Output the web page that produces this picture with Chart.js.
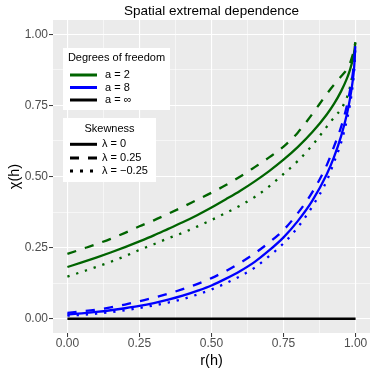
<!DOCTYPE html>
<html>
<head>
<meta charset="utf-8">
<script src="https://cdn.jsdelivr.net/npm/chart.js@4"></script>
<style>
  body { margin: 0; background: #fff; }
  #wrap { width: 374px; height: 374px; }
</style>
</head>
<body>
<div id="wrap"><canvas id="chi" width="374" height="374"></canvas></div>
<script>
// ===== DATA =====
const rVals = [0, 0.05, 0.1, 0.15, 0.2, 0.25, 0.3, 0.35, 0.4, 0.45, 0.5, 0.55, 0.6,
  0.65, 0.7, 0.75, 0.8, 0.85, 0.9, 0.925, 0.95, 0.97, 0.98, 0.99, 0.995, 0.999];

// a = 2
const chiA2Lam0   = [0.182, 0.198, 0.215, 0.233, 0.252, 0.272, 0.293, 0.316, 0.339, 0.364, 0.391, 0.420, 0.450,
  0.483, 0.519, 0.559, 0.604, 0.656, 0.718, 0.755, 0.800, 0.845, 0.873, 0.910, 0.936, 0.970];
const chiA2LamPos = [0.228, 0.245, 0.262, 0.281, 0.302, 0.325, 0.346, 0.369, 0.393, 0.418, 0.443, 0.470, 0.500,
  0.533, 0.567, 0.605, 0.655, 0.720, 0.790, 0.822, 0.852, 0.877, 0.897, 0.928, 0.946, 0.972];
const chiA2LamNeg = [0.148, 0.165, 0.182, 0.200, 0.220, 0.242, 0.262, 0.283, 0.302, 0.324, 0.347, 0.372, 0.398,
  0.428, 0.465, 0.509, 0.555, 0.610, 0.675, 0.707, 0.738, 0.778, 0.812, 0.865, 0.905, 0.960];

// a = 8
const chiA8Lam0   = [0.015, 0.019, 0.024, 0.030, 0.037, 0.045, 0.055, 0.067, 0.081, 0.098, 0.117, 0.141, 0.168,
  0.200, 0.240, 0.286, 0.344, 0.415, 0.508, 0.568, 0.643, 0.720, 0.770, 0.836, 0.884, 0.958];
const chiA8LamPos = [0.021, 0.026, 0.032, 0.040, 0.050, 0.062, 0.074, 0.088, 0.104, 0.122, 0.143, 0.168, 0.197,
  0.230, 0.268, 0.312, 0.372, 0.445, 0.540, 0.605, 0.675, 0.750, 0.800, 0.860, 0.902, 0.962];
const chiA8LamNeg = [0.011, 0.014, 0.018, 0.023, 0.030, 0.038, 0.047, 0.057, 0.069, 0.085, 0.103, 0.125, 0.150,
  0.180, 0.220, 0.265, 0.322, 0.395, 0.485, 0.550, 0.620, 0.700, 0.750, 0.820, 0.870, 0.952];

// a = infinity
const rInf = [0, 1];
const chiInf = [0, 0];

const majorTicks = [0, 0.25, 0.5, 0.75, 1];
const xTickLabels = ["0.00", "0.25", "0.50", "0.75", "1.00"];
const yTickLabels = ["0.00", "0.25", "0.50", "0.75", "1.00"];
const minorTicks = [0.125, 0.375, 0.625, 0.875];

const dofTitle = "Degrees of freedom";
const dofLabels = ["a = 2", "a = 8", "a = \u221E"];
const skewTitle = "Skewness";
const skewLabels = ["\u03BB = 0", "\u03BB = 0.25", "\u03BB = \u22120.25"];

// ===== STYLE =====
const FONT = "'Liberation Sans', Arial, Helvetica, sans-serif";
const GREEN = "#006400";
const BLUE = "#0000FF";
const BLACK = "#000000";
const LW = 2.3;
const DASHED = [9.2, 9.2];
const DOTTED = [2.3, 6.9];

function pts(xs, ys) {
  return xs.map((x, i) => ({ x: x, y: ys[i] }));
}

function series(label, xs, ys, color, dash) {
  return {
    label: label,
    data: pts(xs, ys),
    borderColor: color,
    borderWidth: LW,
    borderDash: dash,
    borderCapStyle: "butt",
    showLine: true,
    pointRadius: 0,
    cubicInterpolationMode: "monotone",
    fill: false
  };
}

const allTicks = majorTicks.concat(minorTicks).sort((a, b) => a - b);
const isMajor = v => majorTicks.some(m => Math.abs(m - v) < 1e-9);

function tickSetup(labels, pad) {
  return {
    afterBuildTicks: scale => {
      scale.ticks = allTicks.map(v => ({ value: v }));
    },
    ticks: {
      autoSkip: false,
      maxRotation: 0,
      padding: pad,
      color: "#4D4D4D",
      font: { family: FONT, size: 12 },
      callback: function (value) {
        const i = majorTicks.findIndex(m => Math.abs(m - value) < 1e-9);
        return i >= 0 ? labels[i] : "";
      }
    },
    grid: {
      color: "#FFFFFF",
      lineWidth: ctx => (ctx.tick && isMajor(ctx.tick.value)) ? 1.1 : 0.55,
      tickColor: ctx => (ctx.tick && isMajor(ctx.tick.value)) ? "#333333" : "rgba(0,0,0,0)",
      tickWidth: 1,
      tickLength: 4,
      drawTicks: true
    },
    border: { display: false }
  };
}

// ===== PANEL BACKGROUND =====
const panelBg = {
  id: "panelBg",
  beforeDraw(chart) {
    const { ctx, chartArea: a } = chart;
    ctx.save();
    ctx.fillStyle = "#EBEBEB";
    ctx.fillRect(a.left, a.top, a.right - a.left, a.bottom - a.top);
    ctx.restore();
  }
};

// ===== TITLE + LEGENDS =====
function legendBox(ctx, box, title, rows) {
  ctx.fillStyle = "#FFFFFF";
  ctx.fillRect(box.x, box.y, box.w, box.h);
  ctx.fillStyle = "#000000";
  ctx.font = "11px " + FONT;
  ctx.textBaseline = "middle";
  ctx.textAlign = "center";
  ctx.fillText(title, box.x + box.w / 2, box.titleY);
  ctx.textAlign = "left";
  rows.forEach(r => {
    ctx.save();
    ctx.strokeStyle = r.color;
    ctx.lineWidth = 3;
    ctx.lineCap = "butt";
    ctx.setLineDash(r.dash);
    ctx.beginPath();
    ctx.moveTo(box.keyX0, r.y);
    ctx.lineTo(box.keyX1, r.y);
    ctx.stroke();
    ctx.restore();
    ctx.fillStyle = "#000000";
    ctx.fillText(r.label, box.textX, r.y);
  });
}

const overlay = {
  id: "overlay",
  afterDraw(chart) {
    const { ctx, chartArea: a } = chart;
    ctx.save();
    ctx.fillStyle = "#000000";
    ctx.font = "13.5px " + FONT;
    ctx.textAlign = "center";
    ctx.textBaseline = "alphabetic";
    ctx.fillText("Spatial extremal dependence", (a.left + a.right) / 2, 14.5);

    legendBox(ctx,
      { x: 63, y: 48, w: 107, h: 62, titleY: 57.5, keyX0: 70, keyX1: 97, textX: 105 },
      dofTitle,
      [
        { y: 75, color: GREEN, dash: [], label: dofLabels[0] },
        { y: 87.5, color: BLUE, dash: [], label: dofLabels[1] },
        { y: 100, color: BLACK, dash: [], label: dofLabels[2] }
      ]);

    legendBox(ctx,
      { x: 63, y: 118, w: 93, h: 64, titleY: 129, keyX0: 70, keyX1: 97, textX: 102 },
      skewTitle,
      [
        { y: 144.3, color: BLACK, dash: [], label: skewLabels[0] },
        { y: 158, color: BLACK, dash: [9, 9], label: skewLabels[1] },
        { y: 171, color: BLACK, dash: [3, 7], label: skewLabels[2] }
      ]);
    ctx.restore();
  }
};

new Chart(document.getElementById("chi"), {
  type: "scatter",
  data: {
    datasets: [
      series("a = inf", rInf, chiInf, BLACK, []),
      series("a = 8, lambda = 0", rVals, chiA8Lam0, BLUE, []),
      series("a = 8, lambda = 0.25", rVals, chiA8LamPos, BLUE, DASHED),
      series("a = 8, lambda = -0.25", rVals, chiA8LamNeg, BLUE, DOTTED),
      series("a = 2, lambda = 0", rVals, chiA2Lam0, GREEN, []),
      series("a = 2, lambda = 0.25", rVals, chiA2LamPos, GREEN, DASHED),
      series("a = 2, lambda = -0.25", rVals, chiA2LamNeg, GREEN, DOTTED)
    ]
  },
  options: {
    responsive: false,
    animation: false,
    devicePixelRatio: 1,
    layout: { padding: { top: 20, right: 4, left: 0, bottom: 0 } },
    plugins: {
      legend: { display: false },
      tooltip: { enabled: false },
      title: { display: false }
    },
    scales: {
      x: Object.assign({
        type: "linear",
        min: -0.05,
        max: 1.05,
        afterFit: scale => { scale.height = 41; },
        title: {
          display: true,
          text: "r(h)",
          color: "#000000",
          font: { family: FONT, size: 14.5 },
          padding: { top: 0, bottom: 4 }
        }
      }, tickSetup(xTickLabels, -1)),
      y: Object.assign({
        type: "linear",
        min: -0.05,
        max: 1.05,
        afterFit: scale => { scale.width = 53; },
        title: {
          display: true,
          text: "\u03C7(h)",
          color: "#000000",
          font: { family: FONT, size: 14.5 },
          padding: { top: 6, bottom: 0 }
        }
      }, tickSetup(yTickLabels, 1))
    }
  },
  plugins: [panelBg, overlay]
});
</script>
</body>
</html>
